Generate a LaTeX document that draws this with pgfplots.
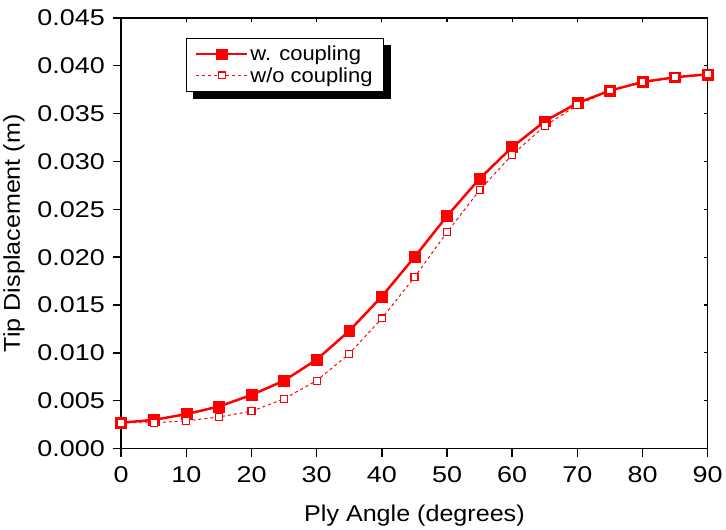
\documentclass[border=0pt]{standalone}
\usepackage{pgfplots}
\pgfplotsset{compat=1.18}
\usepackage{fontspec}
\setmainfont{Liberation Sans}[FakeStretch=1.1]
\newfontfamily\tickfont{Liberation Sans}[FakeStretch=1.18]
\newfontfamily\legfont{Liberation Sans}[FakeStretch=1.08]
\usetikzlibrary{backgrounds}
\begin{document}
\begin{tikzpicture}
\pgfplotsset{every axis/.append style={
  scale only axis, width=591pt, height=434pt,
  xmin=0, xmax=90, ymin=0, ymax=0.045,
}}
% top/right inward ticks
\begin{axis}[
  axis line style={line width=1.5pt},
  xtick={0,10,...,90}, ytick={0,0.005,...,0.045},
  xticklabels={}, yticklabels={},
  scaled ticks=false,
  tick align=inside,
  major tick length=4pt,
  tick style={line width=1.2pt, black},
  xtick pos=right, ytick pos=right,
]
\end{axis}
\begin{axis}[
  axis x line*=bottom, axis y line*=left,
  axis line style={line width=1.5pt, -},
  xtick={0,10,...,90},
  ytick={0,0.005,...,0.045},
  tick align=outside,
  major tick length=8pt,
  tick style={line width=1.5pt, black},
  font=\fontsize{23}{27}\selectfont,
  tick label style={font=\tickfont\fontsize{23}{27}\selectfont},
  /pgf/number format/assume math mode=true,
  yticklabel style={xshift=-5pt, /pgf/number format/.cd, fixed, fixed zerofill, precision=3},
  scaled y ticks=false,
  xticklabel style={yshift=-7pt, /pgf/number format/.cd, fixed},
  ylabel={Tip Displacement (m)},
  xlabel={Ply Angle (degrees)},
  ylabel style={yshift=6pt},
  xlabel style={yshift=-15pt},
  legend cell align=left,
  legend style={name=leg, at={(0.11,0.954)}, anchor=north west, draw=black, line width=1pt,
    fill=white, font=\legfont\fontsize{20.5}{24}\selectfont,
    inner xsep=9pt, inner ysep=6pt, row sep=1pt},
  legend image code/.code={
    \draw[mark repeat=2, mark phase=2, #1] plot coordinates {(0cm,0cm) (0.9cm,0cm) (1.8cm,0cm)};
  },
  extra description/.code={
    \path (axis description cs:0,1) ++(0pt,18pt);
    \path (axis description cs:0,0) ++(0pt,-81pt);
  },
]
\addplot[red, line width=2.5pt, mark=square*, mark size=5.5pt, mark options={solid, fill=red, line width=0.5pt}]
coordinates {
(0,0.0027) (5,0.0030) (10,0.0036) (15,0.0044) (20,0.0056) (25,0.0071) (30,0.0093)
(35,0.0123) (40,0.0159) (45,0.0200) (50,0.0243) (55,0.0282) (60,0.0315) (65,0.0342)
(70,0.0361) (75,0.0374) (80,0.0383) (85,0.0388) (90,0.0391)};
\addlegendentry{w. coupling}
\addplot[red, line width=1pt, dash pattern=on 3pt off 3pt, mark=square*, mark size=3.5pt, mark options={solid, fill=white, line width=1.2pt}]
coordinates {
(0,0.0027) (5,0.0027) (10,0.0029) (15,0.0033) (20,0.0039) (25,0.0052) (30,0.0071)
(35,0.0099) (40,0.0136) (45,0.0179) (50,0.0226) (55,0.0270) (60,0.0307) (65,0.0337)
(70,0.0359) (75,0.0374) (80,0.0383) (85,0.0388) (90,0.0391)};
\addlegendentry{w/o coupling}
\end{axis}
\begin{pgfonlayer}{background}
\fill[black] ([shift={(7pt,-7pt)}]leg.south west) rectangle ([shift={(7pt,-7pt)}]leg.north east);
\end{pgfonlayer}
\end{tikzpicture}
\end{document}
